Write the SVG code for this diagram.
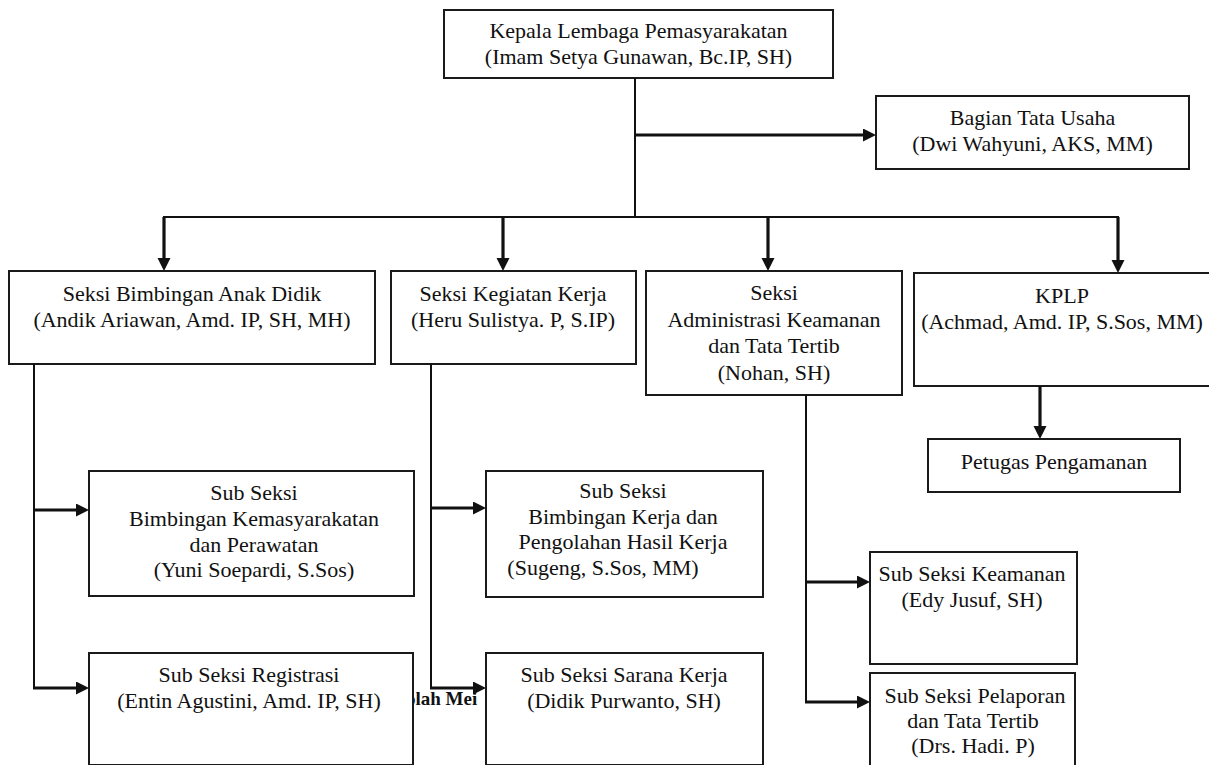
<svg xmlns="http://www.w3.org/2000/svg" width="1209" height="765" viewBox="0 0 1209 765">
<style>
  .box { fill: #ffffff; stroke: #1a1a1a; stroke-width: 2; }
  .t { font-family: "Liberation Serif", "Times New Roman", serif; font-size: 22px; fill: #111111; text-anchor: middle; }
  .thin { fill: none; stroke: #111111; stroke-width: 2; }
  .arr { fill: none; stroke: #111111; stroke-width: 3.2; marker-end: url(#ah); }
  .stray { font-family: "Liberation Serif", "Times New Roman", serif; font-size: 19px; font-weight: bold; fill: #111111; }
</style>
<defs>
  <marker id="ah" markerUnits="userSpaceOnUse" markerWidth="14" markerHeight="14" refX="5" refY="6.5" orient="auto">
    <path d="M0,0 L13,6.5 L0,13 Z" fill="#111111"/>
  </marker>
</defs>
<rect width="1209" height="765" fill="#ffffff"/>

<text class="stray" x="406" y="705">olah Mei</text>

<g id="kepala">
  <rect class="box" x="444" y="10" width="389" height="68"/>
  <text class="t" x="638.5" y="38">Kepala Lembaga Pemasyarakatan</text>
  <text class="t" x="638.5" y="64">(Imam Setya Gunawan, Bc.IP, SH)</text>
</g>
<g id="tata-usaha">
  <rect class="box" x="876" y="96" width="313" height="73"/>
  <text class="t" x="1032.5" y="125">Bagian Tata Usaha</text>
  <text class="t" x="1032.5" y="151">(Dwi Wahyuni, AKS, MM)</text>
</g>
<g id="seksi-bimbingan">
  <rect class="box" x="9" y="271" width="366" height="93"/>
  <text class="t" x="192" y="301">Seksi Bimbingan Anak Didik</text>
  <text class="t" x="192" y="327">(Andik Ariawan, Amd. IP, SH, MH)</text>
</g>
<g id="seksi-kegiatan">
  <rect class="box" x="391" y="271" width="245" height="93"/>
  <text class="t" x="513" y="301">Seksi Kegiatan Kerja</text>
  <text class="t" x="513" y="327">(Heru Sulistya. P, S.IP)</text>
</g>
<g id="seksi-admin">
  <rect class="box" x="646" y="271" width="256" height="124"/>
  <text class="t" x="774" y="300">Seksi</text>
  <text class="t" x="774" y="327">Administrasi Keamanan</text>
  <text class="t" x="774" y="353">dan Tata Tertib</text>
  <text class="t" x="774" y="380">(Nohan, SH)</text>
</g>
<g id="kplp">
  <rect class="box" x="914" y="273" width="300" height="113"/>
  <text class="t" x="1062" y="303">KPLP</text>
  <text class="t" x="1062" y="329">(Achmad, Amd. IP, S.Sos, MM)</text>
</g>
<g id="petugas">
  <rect class="box" x="928" y="439" width="252" height="53"/>
  <text class="t" x="1054" y="469">Petugas Pengamanan</text>
</g>
<g id="sub-bimkemas">
  <rect class="box" x="89" y="471" width="325" height="125"/>
  <text class="t" x="254" y="500">Sub Seksi</text>
  <text class="t" x="254" y="526">Bimbingan Kemasyarakatan</text>
  <text class="t" x="254" y="552">dan Perawatan</text>
  <text class="t" x="254" y="577">(Yuni Soepardi, S.Sos)</text>
</g>
<g id="sub-bimkerja">
  <rect class="box" x="486" y="471" width="277" height="126"/>
  <text class="t" x="623" y="498">Sub Seksi</text>
  <text class="t" x="623" y="524">Bimbingan Kerja dan</text>
  <text class="t" x="623" y="549">Pengolahan Hasil Kerja</text>
  <text class="t" x="603" y="575">(Sugeng, S.Sos, MM)</text>
</g>
<g id="sub-registrasi">
  <rect class="box" x="89" y="653" width="324" height="112"/>
  <text class="t" x="249" y="682">Sub Seksi Registrasi</text>
  <text class="t" x="249" y="708">(Entin Agustini, Amd. IP, SH)</text>
</g>
<g id="sub-sarana">
  <rect class="box" x="486" y="653" width="277" height="112"/>
  <text class="t" x="624" y="682">Sub Seksi Sarana Kerja</text>
  <text class="t" x="624" y="708">(Didik Purwanto, SH)</text>
</g>
<g id="sub-keamanan">
  <rect class="box" x="870" y="552" width="207" height="112"/>
  <text class="t" x="972" y="581">Sub Seksi Keamanan</text>
  <text class="t" x="972" y="607">(Edy Jusuf, SH)</text>
</g>
<g id="sub-pelaporan">
  <rect class="box" x="870" y="673" width="205" height="100"/>
  <text class="t" x="975" y="703">Sub Seksi Pelaporan</text>
  <text class="t" x="973" y="728">dan Tata Tertib</text>
  <text class="t" x="973" y="753">(Drs. Hadi. P)</text>
</g>

<g id="connectors">
  <line class="thin" x1="635" y1="78" x2="635" y2="218"/>
  <line class="thin" x1="163" y1="217" x2="1119" y2="217"/>
  <line class="arr" x1="635" y1="135" x2="868" y2="135"/>
  <line class="arr" x1="164" y1="217" x2="164" y2="263"/>
  <line class="arr" x1="503" y1="217" x2="503" y2="263"/>
  <line class="arr" x1="768" y1="217" x2="768" y2="263"/>
  <line class="arr" x1="1118" y1="217" x2="1118" y2="265"/>
  <line class="arr" x1="1040" y1="386" x2="1040" y2="431"/>
  <line class="thin" x1="34" y1="364" x2="34" y2="689"/>
  <line class="arr" x1="33" y1="510" x2="81" y2="510"/>
  <line class="arr" x1="33" y1="688" x2="81" y2="688"/>
  <line class="thin" x1="431" y1="364" x2="431" y2="689"/>
  <line class="arr" x1="430" y1="508" x2="478" y2="508"/>
  <line class="arr" x1="430" y1="688" x2="478" y2="688"/>
  <line class="thin" x1="806" y1="395" x2="806" y2="703"/>
  <line class="arr" x1="805" y1="582" x2="862" y2="582"/>
  <line class="arr" x1="805" y1="702" x2="862" y2="702"/>
</g>
</svg>
